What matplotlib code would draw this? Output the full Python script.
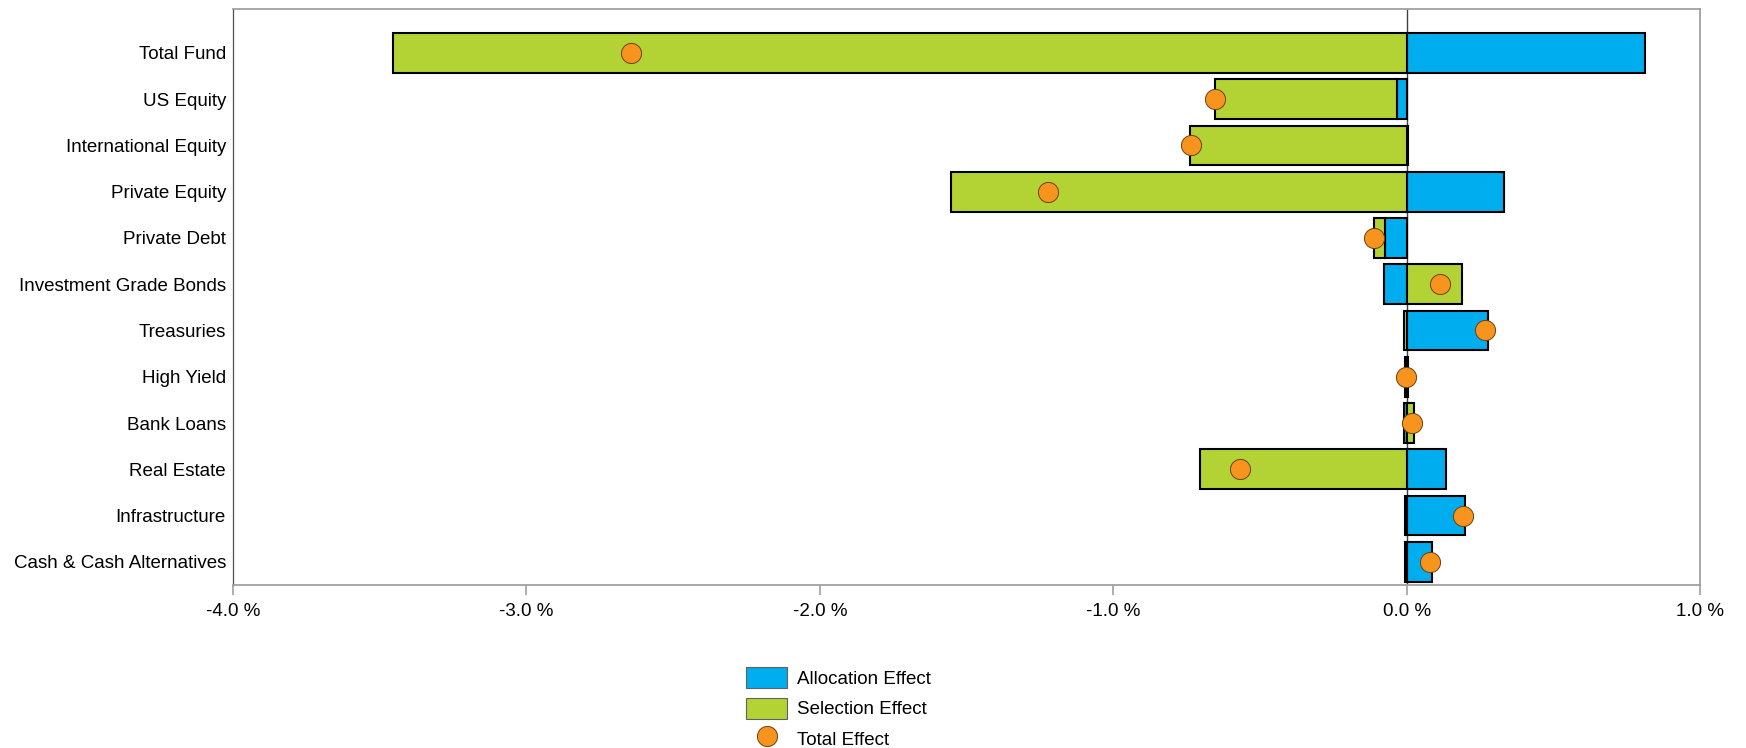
import matplotlib
matplotlib.use("Agg")
import matplotlib.pyplot as plt
from matplotlib.patches import Patch
from matplotlib.lines import Line2D
import numpy as np

plt.rcParams['font.family'] = ['Liberation Sans Narrow', 'Liberation Sans', 'DejaVu Sans']

categories = ["Total Fund", "US Equity", "International Equity", "Private Equity",
              "Private Debt", "Investment Grade Bonds", "Treasuries", "High Yield",
              "Bank Loans", "Real Estate", "Infrastructure", "Cash & Cash Alternatives"]
allocation = [0.813, -0.032, 0.005, 0.331, -0.073, -0.077, 0.276, 0.003, -0.008, 0.135, 0.198, 0.087]
selection = [-3.455, -0.620, -0.740, -1.553, -0.039, 0.189, -0.008, -0.006, 0.025, -0.704, -0.005, -0.007]
total = [-2.642, -0.652, -0.735, -1.222, -0.112, 0.112, 0.268, -0.003, 0.017, -0.569, 0.193, 0.080]
xticks = [-4.0, -3.0, -2.0, -1.0, 0.0, 1.0]

BLUE = "#00AEEF"
GREEN = "#B3D335"
ORANGE = "#F7941D"

fig = plt.figure(figsize=(17.46, 7.48), dpi=100)
ax = fig.add_axes([0.1334, 0.218, 0.9737 - 0.1334, 0.988 - 0.218])

y = np.arange(len(categories))
alloc = np.array(allocation)
sel = np.array(selection)
sel_left = np.where(np.sign(alloc) == np.sign(sel), alloc, 0.0)

ax.axvline(0, color="#404040", lw=1.0, zorder=1)
ax.barh(y, alloc, height=0.86, color=BLUE, edgecolor="black", linewidth=1.5, zorder=2)
ax.barh(y, sel, left=sel_left, height=0.86, color=GREEN, edgecolor="black", linewidth=1.5, zorder=2)
ax.plot(total, y, linestyle="none", marker="o", markersize=14.5, markerfacecolor=ORANGE,
        markeredgecolor="#6a4010", markeredgewidth=0.7, zorder=3)

ax.set_xlim(-4.0, 1.0)
ax.set_ylim(11.5, -0.95)
ax.set_yticks(y)
ax.set_yticklabels(categories, fontsize=13.5)
ax.tick_params(axis="y", length=0, pad=5)
ax.set_xticks(xticks)
ax.set_xticklabels([f"{v:.1f} %" for v in xticks], fontsize=13.5)
ax.tick_params(axis="x", length=7, color="#A0A0A0", width=1.2, pad=6)

for s in ["top", "right", "bottom"]:
    ax.spines[s].set_color("#A0A0A0")
    ax.spines[s].set_linewidth(1.3)
ax.spines["left"].set_color("#505050")
ax.spines["left"].set_linewidth(0.9)

handles = [Patch(facecolor=BLUE, edgecolor="#606060", linewidth=0.8),
           Patch(facecolor=GREEN, edgecolor="#606060", linewidth=0.8),
           Line2D([0], [0], linestyle="none", marker="o", markersize=14.5,
                  markerfacecolor=ORANGE, markeredgecolor="#6a4010", markeredgewidth=0.7)]
labels = ["Allocation Effect", "Selection Effect", "Total Effect"]
fig.legend(handles, labels, loc="upper left", bbox_to_anchor=(0.423, 0.118),
           frameon=False, fontsize=13.5, handlelength=2.2, handleheight=1.35,
           labelspacing=0.5, handletextpad=0.5, borderaxespad=0)

fig.savefig("out.png", dpi=100)
